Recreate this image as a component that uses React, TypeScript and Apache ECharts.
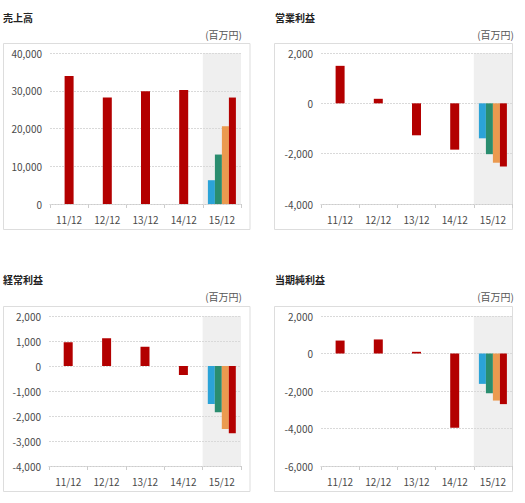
import React, { useEffect, useRef } from 'react';
import * as echarts from 'echarts';

// ---- data ----
const categories = ['11/12', '12/12', '13/12', '14/12', '15/12'];
const titles = ['売上高', '営業利益', '経常利益', '当期純利益'];
const unitLabel = '(百万円)';

const salesActual = [33900, 28200, 29900, 30200];
const salesQuarterly = [6300, 13100, 20600, 28200];
const opActual = [1490, 180, -1270, -1840];
const opQuarterly = [-1390, -2020, -2360, -2510];
const ordActual = [950, 1110, 770, -360];
const ordQuarterly = [-1520, -1850, -2520, -2690];
const netActual = [690, 750, 90, -3960];
const netQuarterly = [-1620, -2120, -2510, -2700];

const yMins = [0, -4000, -4000, -6000];
const yMaxs = [40000, 2000, 2000, 2000];
const yIntervals = [10000, 2000, 1000, 2000];

// ---- styles / layout ----
const FONT = '"Noto Sans CJK JP", "Noto Sans", sans-serif';
const RED = '#b30000';
const Q_COLORS = ['#2ba3d8', '#2a8d6f', '#eb9a4f', '#b30000'];
const SHADE = '#efefef';
const TEXT = '#4a4a4a';

const GRIDS = [
  { left: 50, top: 53, width: 191, height: 151 },
  { left: 321, top: 53, width: 191, height: 151 },
  { left: 49, top: 316, width: 192, height: 150 },
  { left: 321, top: 316, width: 191, height: 150 },
];
const TITLE_POS = [[3, 17], [275, 17], [3, 279], [275, 279]];
const UNIT_POS = [[242, 34], [514, 34], [242, 296], [514, 296]];
const BOXES = [
  [3.5, 43.5, 246.5, 186],
  [274.5, 43.5, 238, 186],
  [3.5, 306.5, 246.5, 185],
  [274.5, 306.5, 238, 185],
];

const actuals = [salesActual, opActual, ordActual, netActual];
const quarterlies = [salesQuarterly, opQuarterly, ordQuarterly, netQuarterly];

function buildOption() {
  const xAxis: any[] = [];
  const yAxis: any[] = [];
  const series: any[] = [];
  const graphic: any[] = [];
  const lastIdx = categories.length - 1;

  GRIDS.forEach((_, i) => {
    xAxis.push({
      type: 'category',
      gridIndex: i,
      data: categories,
      axisLine: { onZero: false, lineStyle: { color: '#cccccc' } },
      axisTick: { show: true, length: 4, lineStyle: { color: '#cccccc' } },
      axisLabel: { color: TEXT, fontSize: 10, margin: 10, fontFamily: FONT },
      splitArea: {
        show: true,
        areaStyle: {
          color: categories.map((_, k) => (k === lastIdx ? SHADE : 'rgba(0,0,0,0)')),
        },
      },
    });
    xAxis.push({
      type: 'category',
      gridIndex: i,
      data: categories,
      show: false,
    });
    yAxis.push({
      type: 'value',
      gridIndex: i,
      min: yMins[i],
      max: yMaxs[i],
      interval: yIntervals[i],
      z: 1,
      axisLine: { show: false },
      axisTick: { show: false },
      axisLabel: {
        color: TEXT,
        fontSize: 10,
        margin: 8,
        fontFamily: FONT,
        formatter: (v: number) => v.toLocaleString('en-US'),
      },
      splitLine: { show: true, lineStyle: { color: '#d9d9d9', type: [2, 1] } },
    });
    series.push({
      type: 'bar',
      xAxisIndex: 2 * i,
      yAxisIndex: i,
      data: [...actuals[i], null],
      barWidth: 9,
      itemStyle: { color: RED },
    });
    quarterlies[i].forEach((v, k) => {
      series.push({
        type: 'bar',
        xAxisIndex: 2 * i + 1,
        yAxisIndex: i,
        data: categories.map((_, c) => (c === lastIdx ? v : null)),
        barWidth: 7,
        barGap: '0%',
        itemStyle: { color: Q_COLORS[k] },
      });
    });
    const [bx, by, bw, bh] = BOXES[i];
    graphic.push({
      type: 'rect',
      shape: { x: bx, y: by, width: bw, height: bh },
      style: { fill: 'none', stroke: '#dddddd', lineWidth: 1 },
      z: -1,
    });
    graphic.push({
      type: 'text',
      x: TITLE_POS[i][0],
      y: TITLE_POS[i][1],
      style: {
        text: titles[i],
        fill: '#222',
        font: `bold 10px ${FONT}`,
        verticalAlign: 'middle',
      },
    });
    graphic.push({
      type: 'text',
      x: UNIT_POS[i][0],
      y: UNIT_POS[i][1],
      style: {
        text: unitLabel,
        fill: '#555',
        font: `10px ${FONT}`,
        align: 'right',
        verticalAlign: 'middle',
      },
    });
  });

  return {
    animation: false,
    backgroundColor: '#ffffff',
    textStyle: { fontFamily: FONT },
    grid: GRIDS.map((g) => ({ ...g, containLabel: false })),
    xAxis,
    yAxis,
    series,
    graphic,
  };
}

export default function App() {
  const ref = useRef<HTMLDivElement>(null);
  useEffect(() => {
    if (!ref.current) return;
    const chart = echarts.init(ref.current, undefined, { renderer: 'svg' });
    chart.setOption(buildOption() as any);
    return () => chart.dispose();
  }, []);
  return (
    <div
      ref={ref}
      style={{ position: 'fixed', left: 0, top: 0, width: 525, height: 503 }}
    />
  );
}
